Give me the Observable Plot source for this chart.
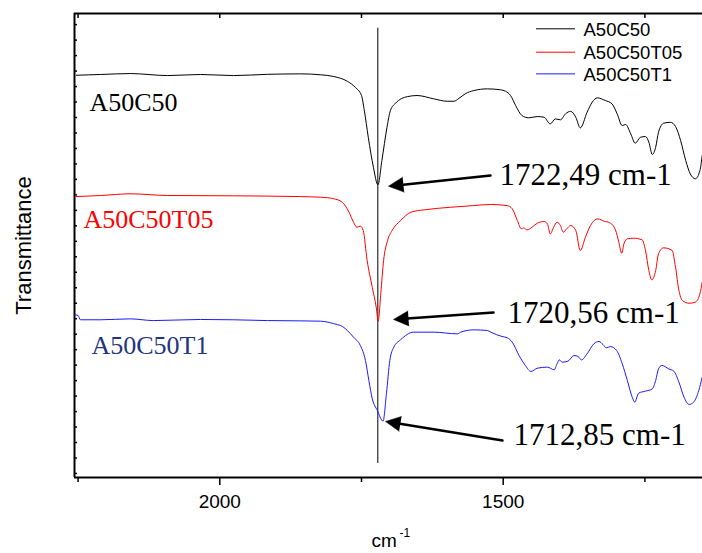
<!DOCTYPE html>
<html><head><meta charset="utf-8">
<script src="https://cdn.jsdelivr.net/npm/d3@7"></script>
<script src="https://cdn.jsdelivr.net/npm/@observablehq/plot@0.6"></script>
<style>body{margin:0;background:#fff}</style>
</head><body><div id="chart"></div>
<script>
// ---- data (wavenumber cm-1, transmittance in arbitrary offset units) ----
const seriesNames = ["A50C50", "A50C50T05", "A50C50T1"];

const blackWn = [2253,2210,2158,2092,2034,1976,1916,1858,1822,1799,1775,1761,1750,1745,1738,1729,1721,1714,1705,1699,1690,1669,1652,1623,1599,1587,1578,1567,1552,1528,1505,1496,1487,1478,1467,1455,1440,1428,1417,1408,1399,1390,1381,1372,1364,1352,1343,1334,1320,1308,1299,1290,1284,1275,1267,1258,1249,1243,1237,1231,1226,1217,1205,1196,1187,1178,1170,1161,1153,1149];
const blackT = [25.73,25.78,25.84,25.71,25.78,25.71,25.79,25.82,25.76,25.65,25.34,24.95,24.42,23.45,21.72,19.79,18.65,20.22,22.37,23.45,23.92,24.35,24.42,24.21,24.05,24.05,24.24,24.53,24.74,24.85,24.79,24.70,24.42,23.77,23.13,22.98,23.06,23.02,22.59,22.91,22.85,23.24,23.40,23.02,22.33,23.34,23.99,24.27,24.10,23.88,23.24,22.48,22.55,21.94,21.34,21.72,21.77,21.40,20.61,21.08,22.05,22.63,22.69,22.42,21.51,20.22,19.36,19.04,19.57,20.54];

const redWn = [2255,2210,2158,2092,1976,1858,1822,1799,1784,1772,1764,1758,1752,1747,1740,1731,1724,1720.5,1716,1711,1704,1696,1681,1663,1640,1593,1552,1522,1493,1484,1475,1468,1464,1458,1449,1440,1428,1422,1417,1411,1405,1399,1394,1388,1381,1372,1364,1355,1346,1333,1322,1312,1302,1296,1291,1287,1281,1270,1255,1249,1243,1238,1231,1226,1217,1202,1196,1190,1184,1172,1161,1153,1149];
const redT = [17.89,17.96,18.07,17.96,17.94,17.89,17.85,17.75,17.53,16.88,16.23,15.91,15.98,15.70,13.76,12.03,10.74,9.84,11.61,13.76,15.05,15.70,16.34,16.88,17.03,17.20,17.31,17.38,17.31,17.10,16.34,15.81,15.87,15.74,15.91,16.17,16.28,16.13,15.48,15.91,16.23,16.02,15.59,15.81,16.02,15.70,14.41,15.26,16.02,16.45,16.30,16.20,15.74,14.94,14.23,14.84,15.16,15.20,15.10,14.41,13.11,12.51,13.11,14.19,14.58,14.41,13.33,11.82,11.18,11.00,11.07,11.61,12.36];

const blueWn = [2256,2250,2246,2210,2158,2117,2034,1976,1916,1858,1822,1792,1787,1775,1764,1752,1743,1737,1731,1722,1712,1706,1700,1693,1681,1658,1622,1581,1575,1552,1528,1522,1502,1493,1484,1472,1461,1451,1440,1422,1410,1405,1401,1396,1386,1375,1368,1362,1352,1340,1331,1324,1318,1311,1300,1290,1281,1272,1268,1261,1249,1237,1231,1226,1220,1208,1199,1190,1181,1172,1164,1155,1149];
const blueT = [10.25,10.21,9.93,9.93,9.99,9.88,9.95,9.93,9.88,9.86,9.84,9.61,9.56,9.24,8.80,8.27,7.30,6.01,4.83,4.07,3.38,5.15,7.30,8.16,8.64,9.13,9.13,9.02,9.13,9.28,9.24,9.13,8.85,8.77,8.48,7.62,6.98,6.59,6.80,6.87,6.70,7.09,7.34,7.19,7.25,7.62,7.56,7.34,7.73,8.38,8.53,8.33,8.12,8.20,7.95,7.09,6.01,4.89,4.61,5.19,5.32,5.47,6.01,6.76,6.98,6.76,6.61,5.90,4.93,4.46,4.61,5.36,6.22];

// axis ticks
const majorTicks = [2000, 1500];
const minorTicks = [2250, 1750, 1250];
const yTicks = d3.range(0, 30);

// annotations (data coordinates)
const peakLabels = ["1722,49 cm-1", "1720,56 cm-1", "1712,85 cm-1"];
const peakLabelWn = [1506.5, 1492.4, 1481.8];
const peakLabelT = [18.67, 9.75, 1.81];
const arrowTailWn = [1522.4, 1517.1, 1501.2];
const arrowTailT = [19.25, 10.40, 2.13];
const arrowTipWn = [1702.4, 1693.5, 1707.6];
const arrowTipT = [18.56, 9.95, 3.36];
const refLineWn = 1721.2;
const refLineT = [0.65, 28.77];
const sampleLabelWn = [2229.9, 2240.5, 2226.3];
const sampleLabelT = [23.4, 15.85, 7.69];
const legendT = [28.73, 27.22, 25.82];
const legendLineWn = [1441.2, 1372.4];
const legendTextWn = 1358.3;
const xTitleWn = [1732.3, 1683.0];
const xTitleT = [-4.78, -4.13];

// ---- build ----
const colors = ["#000000", "#ff0000", "#1a1aff"];
const labelColors = ["#000000", "#ff0000", "#1f3580"];
const rows = (wn, t) => wn.map((w, i) => ({wn: w, t: t[i]}));
const series = [rows(blackWn, blackT), rows(redWn, redT), rows(blueWn, blueT)];

const xDomain = [2256.3, 1148.4];
const yDomain = [-0.26, 29.72];
const W = 702, H = 553, mL = 74, mR = 0, mT = 13, mB = 76;
const kx = (W - mL - mR) / (xDomain[0] - xDomain[1]);
const ky = (H - mT - mB) / (yDomain[1] - yDomain[0]);

const arrows = arrowTipWn.map((w, i) => {
  const pdx = (arrowTailWn[i] - w) * kx;
  const pdy = -(arrowTipT[i] - arrowTailT[i]) * ky;
  return {x1: arrowTailWn[i], y1: arrowTailT[i], x2: w, y2: arrowTipT[i],
          angle: Math.atan2(pdx, -pdy) * 180 / Math.PI};
});

const serif = "'Liberation Serif', 'Times New Roman', serif";
const sans = "'Liberation Sans', Arial, sans-serif";

const marks = [];
// frame
marks.push(Plot.ruleY([yDomain[0]], {strokeWidth: 2}));
marks.push(Plot.ruleY([yDomain[1]], {strokeWidth: 2}));
marks.push(Plot.ruleX([xDomain[0]], {strokeWidth: 2}));
// axes
marks.push(Plot.axisX({anchor: "bottom", ticks: majorTicks, tickSize: 8, tickPadding: 9, tickFormat: d => String(d), fontSize: 19, fontFamily: sans, strokeWidth: 1.5}));
marks.push(Plot.axisX({anchor: "bottom", ticks: minorTicks, tickSize: 5, text: null, strokeWidth: 1.5}));
marks.push(Plot.axisX({anchor: "top", ticks: [...majorTicks, ...minorTicks], tickSize: -4, text: null, strokeWidth: 1.5}));
marks.push(Plot.axisY({anchor: "left", ticks: yTicks, tickSize: -3, text: null, strokeWidth: 1.5}));
// reference vertical line
marks.push(Plot.ruleX([refLineWn], {y1: refLineT[0], y2: refLineT[1], stroke: "black", strokeWidth: 1}));
// spectra
series.forEach((s, i) => marks.push(Plot.line(s, {x: "wn", y: "t", stroke: colors[i], strokeWidth: 1, curve: "monotone-x"})));
// arrows
marks.push(Plot.arrow(arrows, {x1: "x1", y1: "y1", x2: "x2", y2: "y2", headLength: 0, insetEnd: 10, stroke: "black", strokeWidth: 2.5}));
marks.push(Plot.vector(arrows, {x: "x2", y: "y2", rotate: "angle", length: 15, r: 7.5, shape: "spike", anchor: "end", fill: "black", stroke: "black", strokeWidth: 0.5}));
// peak labels
peakLabels.forEach((lab, i) => marks.push(Plot.text([lab], {x: peakLabelWn[i], y: peakLabelT[i], text: d => d, textAnchor: "start", lineAnchor: "bottom", fontSize: 31, fontFamily: serif, fill: "black"})));
// sample labels
seriesNames.forEach((n, i) => marks.push(Plot.text([n], {x: sampleLabelWn[i], y: sampleLabelT[i], text: d => d, textAnchor: "start", lineAnchor: "bottom", fontSize: 26, fontFamily: serif, fill: labelColors[i]})));
// legend
seriesNames.forEach((n, i) => {
  marks.push(Plot.ruleY([legendT[i]], {x1: legendLineWn[0], x2: legendLineWn[1], stroke: colors[i], strokeWidth: 1}));
  marks.push(Plot.text([n], {x: legendTextWn, y: legendT[i], text: d => d, textAnchor: "start", lineAnchor: "middle", dy: 1, fontSize: 18.5, fontFamily: sans, fill: "black"}));
});
// axis titles
marks.push(Plot.text(["cm"], {x: xTitleWn[0], y: xTitleT[0], text: d => d, textAnchor: "start", lineAnchor: "bottom", fontSize: 19, fontFamily: sans}));
marks.push(Plot.text(["-1"], {x: xTitleWn[1], y: xTitleT[1], text: d => d, textAnchor: "start", lineAnchor: "bottom", fontSize: 12, fontFamily: sans}));
marks.push(Plot.text(["Transmittance"], {x: 2332.2, y: 14.73, text: d => d, rotate: -90, textAnchor: "middle", lineAnchor: "bottom", fontSize: 22, fontFamily: sans}));

const chart = Plot.plot({
  width: W, height: H,
  marginLeft: mL, marginRight: mR, marginTop: mT, marginBottom: mB,
  x: {domain: xDomain, axis: null},
  y: {domain: yDomain, axis: null},
  style: {background: "white", fontFamily: sans, overflow: "visible"},
  marks
});
document.getElementById("chart").appendChild(chart);
</script>
</body></html>
